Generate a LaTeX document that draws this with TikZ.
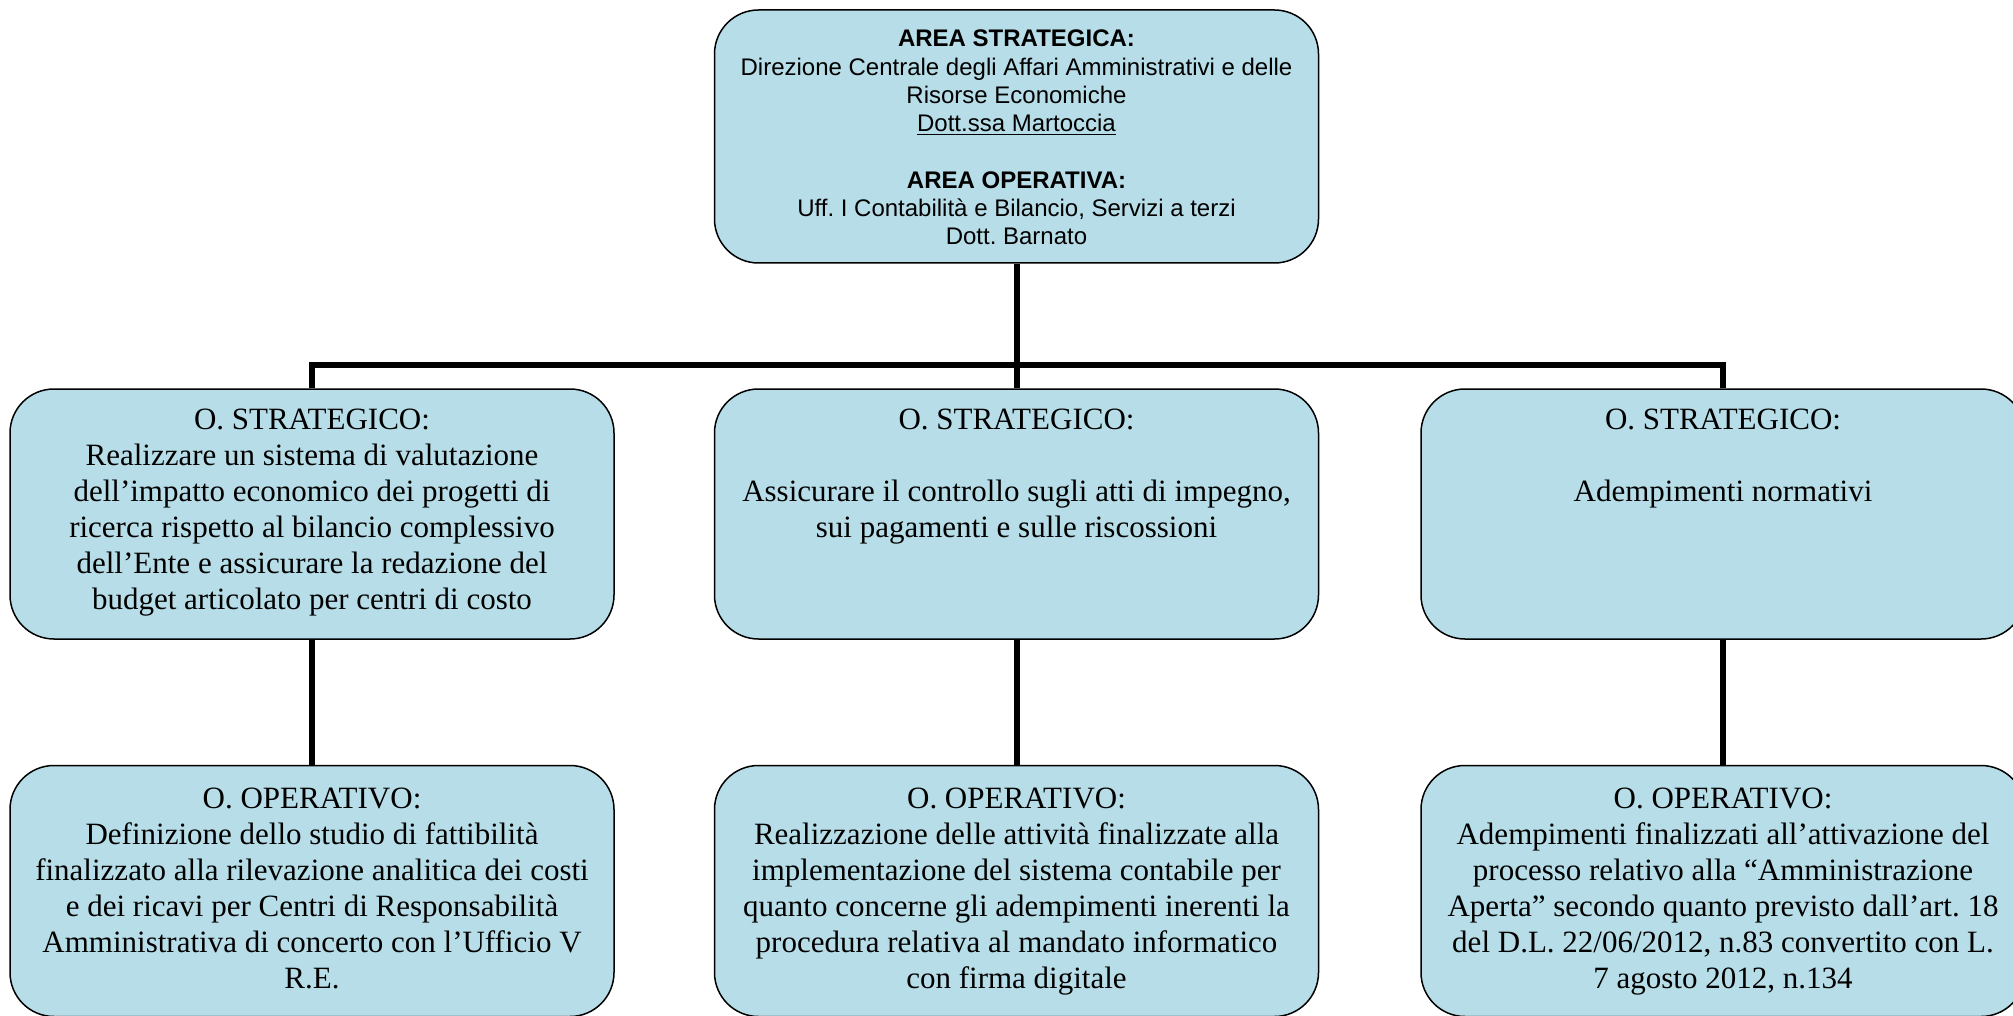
\documentclass[tikz,border=0pt]{standalone}
\usepackage{fontspec}
\setmainfont{Liberation Serif}
\newfontfamily\arialfont{Liberation Sans}
\usetikzlibrary{positioning}
\frenchspacing

\definecolor{boxfill}{RGB}{183,222,232}
\tikzset{every picture/.style={line width=0.75pt}}
\tikzset{
  obox/.style={draw, fill=boxfill, rounded corners=22pt, minimum width=302pt, minimum height=125pt, inner sep=0pt},
  otext/.style={align=center, inner sep=0pt, font=\fontsize{15.5}{18}\selectfont},
  atext/.style={align=center, inner sep=0pt, font=\arialfont\fontsize{12}{14.15}\selectfont},
  link/.style={line width=3pt}
}

\begin{document}
\begin{tikzpicture}[x=0.5pt,y=0.5pt,yscale=-1]
\clip (0,0) rectangle (2013,1016);

%Straight Lines [id:bus]
\coordinate (bus) at (0,365);

%Rounded Rect [id:top]
\node[obox, minimum height=126.5pt] (top) at (1016.5,136.5) {};
\node[atext, below=10pt of top.north] (toptext) {\textbf{AREA STRATEGICA:}\\
Direzione Centrale degli Affari Amministrativi e delle\\
Risorse Economiche\\
\underline{Dott.ssa Martoccia}\\[14.15pt]
\textbf{AREA OPERATIVA:}\\
Uff. I Contabilità e Bilancio, Servizi a terzi\\
Dott. Barnato};

%Rounded Rect [id:strategici]
\node[obox] (s1) at (312,514) {};
\node[obox] (s2) at (1016.5,514) {};
\node[obox] (s3) at (1723,514) {};
\node[otext, below=10pt of s1.north] (s1text) {O. STRATEGICO:\\
Realizzare un sistema di valutazione\\
dell’impatto economico dei progetti di\\
ricerca rispetto al bilancio complessivo\\
dell’Ente e assicurare la redazione del\\
budget articolato per centri di costo};
\node[otext, below=10pt of s2.north] (s2text) {O. STRATEGICO:\\[18pt]
Assicurare il controllo sugli atti di impegno,\\
sui pagamenti e sulle riscossioni};
\node[otext, below=10pt of s3.north] (s3text) {O. STRATEGICO:\\[18pt]
Adempimenti normativi};

%Rounded Rect [id:operativi]
\node[obox, minimum height=125.5pt] (p1) at (312,891) {};
\node[obox, minimum height=125.5pt] (p2) at (1016.5,891) {};
\node[obox, minimum height=125.5pt] (p3) at (1723,891) {};
\node[otext, below=11pt of p1.north] (p1text) {O. OPERATIVO:\\
Definizione dello studio di fattibilità\\
finalizzato alla rilevazione analitica dei costi\\
e dei ricavi per Centri di Responsabilità\\
Amministrativa di concerto con l’Ufficio V\\
R.E.};
\node[otext, below=11pt of p2.north] (p2text) {O. OPERATIVO:\\
Realizzazione delle attività finalizzate alla\\
implementazione del sistema contabile per\\
quanto concerne gli adempimenti inerenti la\\
procedura relativa al mandato informatico\\
con firma digitale};
\node[otext, below=11pt of p3.north] (p3text) {O. OPERATIVO:\\
Adempimenti finalizzati all’attivazione del\\
processo relativo alla “Amministrazione\\
Aperta” secondo quanto previsto dall’art. 18\\
del D.L. 22/06/2012, n.83 convertito con L.\\
7 agosto 2012, n.134};

%Straight Lines [id:links]
\draw[link] (top.south) -- (s2.north);
\draw[link] (s1.north) -- (s1.north |- bus) -- (s3.north |- bus) -- (s3.north);
\draw[link] (s1.south) -- (p1.north);
\draw[link] (s2.south) -- (p2.north);
\draw[link] (s3.south) -- (p3.north);

\end{tikzpicture}
\end{document}
